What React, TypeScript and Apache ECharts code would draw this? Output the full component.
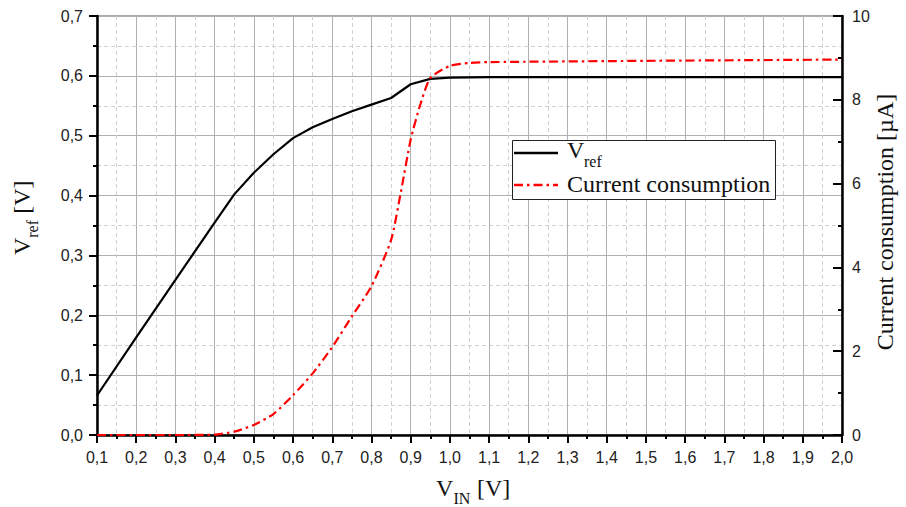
import React, { useEffect, useRef } from "react";
import * as echarts from "echarts";

// V_ref (left axis, volts) vs V_IN
const vrefX = [0.1, 0.2, 0.3, 0.4, 0.45, 0.5, 0.55, 0.6, 0.65, 0.7, 0.75, 0.8, 0.85, 0.9, 0.95, 1.0, 1.1, 1.5, 2.0];
const vrefY = [0.066, 0.163, 0.259, 0.355, 0.402, 0.438, 0.469, 0.496, 0.514, 0.528, 0.541, 0.552, 0.563, 0.586, 0.595, 0.597, 0.598, 0.598, 0.598];

// Current consumption (right axis, µA) vs V_IN
const currX = [0.1, 0.2, 0.3, 0.4, 0.45, 0.5, 0.55, 0.6, 0.65, 0.7, 0.75, 0.8, 0.85, 0.875, 0.9, 0.925, 0.95, 1.0, 1.05, 1.1, 1.5, 2.0];
const currY = [0, 0, 0, 0.01, 0.08, 0.24, 0.5, 0.95, 1.47, 2.1, 2.83, 3.55, 4.65, 5.8, 7.05, 7.9, 8.52, 8.81, 8.88, 8.9, 8.93, 8.96];

// Axis ranges
const xRange = [0.1, 2.0];
const xStep = 0.1;
const yLeftRange = [0, 0.7];
const yLeftStep = 0.1;
const yRightRange = [0, 10];
const yRightStep = 2;

const serif = "'Liberation Serif', 'Times New Roman', serif";
const sans = "'Liberation Sans', Arial, sans-serif";

function txt(x: number, y: number, text: string, fs: number, align: string = "left") {
  return {
    type: "text",
    x,
    y,
    z: 100,
    style: { text, x: 0, y: 0, fontSize: fs, fontFamily: serif, fill: "#111", align, verticalAlign: "middle" },
  };
}

export default function App() {
  const ref = useRef<HTMLDivElement>(null);
  useEffect(() => {
    if (!ref.current) return;
    const chart = echarts.init(ref.current, null, { renderer: "svg" });
    const comma = (v: number) => v.toFixed(1).replace(".", ",");
    const tickStyle = { color: "#000", width: 2 };
    chart.setOption({
      animation: false,
      grid: { left: 97, right: 64, top: 16, bottom: 72, show: true, borderColor: "#555", borderWidth: 1 },
      xAxis: {
        type: "value",
        min: xRange[0],
        max: xRange[1],
        interval: xStep,
        axisLine: { show: true, onZero: false, lineStyle: { color: "#000", width: 2.5 } },
        axisTick: { show: true, length: 8, lineStyle: tickStyle },
        minorTick: { show: true, splitNumber: 2, length: 4, lineStyle: tickStyle },
        axisLabel: { formatter: comma, fontFamily: sans, fontSize: 16, color: "#222", margin: 14 },
        splitLine: { show: true, lineStyle: { color: "#b0b0b0", width: 1 } },
        minorSplitLine: { show: true, lineStyle: { color: "#d0d0d0", width: 1, type: [4, 3] } },
      },
      yAxis: [
        {
          type: "value",
          min: yLeftRange[0],
          max: yLeftRange[1],
          interval: yLeftStep,
          axisLine: { show: true, onZero: false, lineStyle: { color: "#000", width: 2.5 } },
          axisTick: { show: true, length: 8, lineStyle: tickStyle },
          minorTick: { show: true, splitNumber: 2, length: 4, lineStyle: tickStyle },
          axisLabel: { formatter: comma, fontFamily: sans, fontSize: 16, color: "#222", margin: 14 },
          splitLine: { show: true, lineStyle: { color: "#b0b0b0", width: 1 } },
          minorSplitLine: { show: true, lineStyle: { color: "#d0d0d0", width: 1, type: [4, 3] } },
        },
        {
          type: "value",
          position: "right",
          min: yRightRange[0],
          max: yRightRange[1],
          interval: yRightStep,
          axisLine: { show: true, onZero: false, lineStyle: { color: "#000", width: 2.5 } },
          axisTick: { show: true, inside: true, length: 9, lineStyle: tickStyle },
          minorTick: { show: true, splitNumber: 2, length: 4, lineStyle: tickStyle },
          axisLabel: { fontFamily: sans, fontSize: 16, color: "#222", margin: 10 },
          splitLine: { show: false },
        },
      ],
      series: [
        {
          type: "line",
          yAxisIndex: 0,
          data: vrefX.map((x, i) => [x, vrefY[i]]),
          showSymbol: false,
          lineStyle: { color: "#000", width: 2.2 },
          z: 5,
        },
        {
          type: "line",
          yAxisIndex: 1,
          data: currX.map((x, i) => [x, currY[i]]),
          showSymbol: false,
          smooth: 0.2,
          lineStyle: { color: "#ff0000", width: 2.2, type: [9, 4, 2.5, 4] },
          z: 6,
        },
      ],
      graphic: [
        {
          type: "rect",
          z: 99,
          shape: { x: 512.5, y: 140.5, width: 263, height: 59 },
          style: { fill: "#fff", stroke: "#222", lineWidth: 1 },
        },
        {
          type: "line",
          z: 100,
          shape: { x1: 514, y1: 153, x2: 558, y2: 153 },
          style: { stroke: "#000", lineWidth: 2.5 },
        },
        {
          type: "line",
          z: 100,
          shape: { x1: 514, y1: 185, x2: 558, y2: 185 },
          style: { stroke: "#ff0000", lineWidth: 2.5, lineDash: [9, 4, 2.5, 4] },
        },
        txt(567, 149.8, "V", 24),
        txt(584, 161.5, "ref", 16),
        txt(567, 183.8, "Current consumption", 24),
        // bottom axis name
        txt(436, 487.5, "V", 24),
        txt(453.5, 498.5, "IN", 16),
        txt(471, 487.5, " [V]", 24),
        // left axis name
        {
          type: "group",
          x: 30,
          y: 215,
          rotation: Math.PI / 2,
          children: [txt(-40, -8.2, "V", 24), txt(-22.8, 2.6, "ref", 16), txt(-4.8, -8.2, " [V]", 24)],
        },
        // right axis name
        {
          type: "group",
          x: 893,
          y: 222,
          rotation: Math.PI / 2,
          children: [txt(0, -8.2, "Current consumption [µA]", 24, "center")],
        },
      ],
    });
    return () => chart.dispose();
  }, []);
  return <div ref={ref} style={{ position: "fixed", left: 0, top: 0, width: 906, height: 507, background: "#fff" }} />;
}
